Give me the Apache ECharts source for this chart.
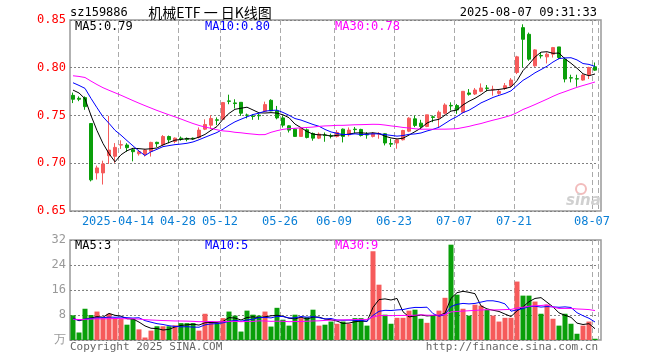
<!DOCTYPE html>
<html><head><meta charset="utf-8">
<script src="https://cdn.jsdelivr.net/npm/echarts@6/dist/echarts.min.js"></script>
<style>html,body{margin:0;padding:0;background:#fff}#c{width:660px;height:360px}</style>
</head><body><div id="c"></div><script>
// ---------- data ----------
const dates = [
 '2025-04-01','2025-04-02','2025-04-03','2025-04-07','2025-04-08','2025-04-09','2025-04-10','2025-04-11','2025-04-14','2025-04-15','2025-04-16','2025-04-17','2025-04-18','2025-04-21','2025-04-22','2025-04-23','2025-04-24','2025-04-25','2025-04-28','2025-04-29','2025-04-30',
 '2025-05-06','2025-05-07','2025-05-08','2025-05-09','2025-05-12','2025-05-13','2025-05-14','2025-05-15','2025-05-16','2025-05-19','2025-05-20','2025-05-21','2025-05-22','2025-05-23','2025-05-26','2025-05-27','2025-05-28','2025-05-29','2025-05-30',
 '2025-06-03','2025-06-04','2025-06-05','2025-06-06','2025-06-09','2025-06-10','2025-06-11','2025-06-12','2025-06-13','2025-06-16','2025-06-17','2025-06-18','2025-06-19','2025-06-20','2025-06-23','2025-06-24','2025-06-25','2025-06-26','2025-06-27','2025-06-30',
 '2025-07-01','2025-07-02','2025-07-03','2025-07-04','2025-07-07','2025-07-08','2025-07-09','2025-07-10','2025-07-11','2025-07-14','2025-07-15','2025-07-16','2025-07-17','2025-07-18','2025-07-21','2025-07-22','2025-07-23','2025-07-24','2025-07-25','2025-07-28','2025-07-29','2025-07-30','2025-07-31',
 '2025-08-01','2025-08-04','2025-08-05','2025-08-06','2025-08-07'
];
const opens = [.7711,.7680,.7687,.7416,.6899,.6899,.7079,.7073,.7190,.7191,.7142,.7100,.7090,.7125,.7219,.7194,.7280,.7229,.7263,.7260,.7262,.7270,.7357,.7399,.7455,.7460,.7653,.7632,.7638,.7504,.7495,.7503,.7545,.7659,.7548,.7475,.7392,.7357,.7281,.7350,.7312,.7263,.7295,.7290,.7281,.7357,.7298,.7357,
 .7354,.7302,.7281,.7306,.7309,.7207,.7212,.7246,.7336,.7465,.7420,.7385,.7486,.7475,.7524,.7606,.7604,.7534,.7736,.7725,.7753,.7788,.7770,.7732,.7784,.7812,.7951,.8420,.8350,.8020,.8128,.8114,.8142,.8218,.8090,.7896,.7885,.7871,.7927,.8010];
const closes = [.7670,.7670,.7593,.6826,.6951,.6993,.7138,.7166,.7195,.7163,.7121,.7120,.7138,.7218,.7205,.7280,.7246,.7263,.7253,.7250,.7255,.7347,.7406,.7469,.7450,.7635,.7648,.7625,.7524,.7503,.7490,.7497,.7614,.7548,.7475,.7399,.7347,.7281,.7364,.7270,.7263,.7305,.7290,.7285,.7322,.7281,.7347,.7352,
 .7291,.7296,.7309,.7309,.7212,.7200,.7246,.7343,.7472,.7396,.7385,.7507,.7480,.7534,.7610,.7600,.7559,.7753,.7722,.7767,.7788,.7784,.7774,.7753,.7812,.7871,.8114,.8298,.8090,.8187,.8124,.8142,.8211,.8107,.7882,.7892,.7882,.7923,.8003,.7975];
const lows = [.7630,.7650,.7560,.6810,.6830,.6777,.6993,.7003,.7150,.7120,.7020,.7080,.7070,.7070,.7170,.7180,.7210,.7210,.7236,.7230,.7245,.7260,.7347,.7357,.7399,.7455,.7618,.7573,.7496,.7470,.7455,.7455,.7538,.7545,.7460,.7375,.7322,.7281,.7281,.7260,.7236,.7253,.7225,.7260,.7270,.7218,.7281,.7312,
 .7280,.7257,.7270,.7257,.7187,.7170,.7152,.7239,.7326,.7378,.7361,.7378,.7430,.7378,.7510,.7552,.7517,.7524,.7708,.7715,.7743,.7753,.7708,.7718,.7767,.7795,.7934,.8003,.8073,.8010,.8097,.8045,.8107,.8090,.7847,.7847,.7802,.7864,.7882,.7968];
const highs = [.7740,.7700,.7700,.7416,.6975,.7027,.7496,.7211,.7240,.7210,.7160,.7140,.7150,.7225,.7225,.7295,.7290,.7270,.7280,.7270,.7270,.7375,.7460,.7503,.7480,.7642,.7718,.7670,.7638,.7520,.7513,.7520,.7645,.7670,.7600,.7496,.7399,.7364,.7375,.7364,.7322,.7322,.7322,.7310,.7347,.7364,.7375,.7380,
 .7361,.7326,.7326,.7326,.7316,.7257,.7257,.7350,.7482,.7500,.7455,.7507,.7500,.7552,.7628,.7638,.7621,.7753,.7777,.7788,.7836,.7819,.7812,.7767,.7840,.7892,.8125,.8455,.8368,.8194,.8160,.8160,.8218,.8218,.8107,.7927,.7927,.7934,.8010,.8055];
const volumes = [7.9,2.4,10.0,8.0,9.1,7.0,8.4,7.0,6.7,4.9,6.7,3.4,0.8,3.0,4.4,4.4,4.4,4.7,5.4,5.4,5.4,3.0,8.4,5.9,5.4,7.0,9.1,7.8,2.7,9.4,8.1,7.8,9.1,4.3,10.3,6.5,4.6,8.1,7.0,7.3,9.7,4.6,4.9,5.9,5.2,5.9,5.2,7.0,
 7.0,4.6,28.4,17.7,8.1,5.2,7.1,7.1,9.4,9.7,6.8,5.5,7.8,9.4,13.5,30.5,14.5,10.0,7.8,11.3,11.0,9.7,7.8,5.9,7.1,7.1,18.7,14.2,14.2,12.3,8.4,11.3,6.8,4.6,8.4,5.2,2.0,4.6,5.9,0.4];
// estimated closes / volumes before the visible window (only used to warm up the moving averages)
const preCloses = [.790,.792,.797,.801,.799,.796,.794,.798,.800,.797,.793,.791,.795,.798,.796,.792,.790,.794,.797,.796,.795,.790,.788,.793,.794,.782,.790,.770,.774];
const preVolumes = [6.1,7.4,5.8,6.9,7.2,6.3,5.5,7.8,6.6,6.0,7.1,6.4,5.9,7.3,6.8,6.2,7.0,5.7,6.5,7.6,6.3,6.9,5.8,7.2,6.6,6.4,7.5,6.1,6.9];
const tickDates = ['2025-04-14','2025-04-28','2025-05-12','2025-05-26','2025-06-09','2025-06-23','2025-07-07','2025-07-21','2025-08-07'];
const priceTicks = {min: 0.65, max: 0.85, interval: 0.05};
const volTicks = {min: 0, max: 32, interval: 8};
const maPeriods = [5, 10, 30];
const maColors = ['#000000', '#0000ff', '#ff00ff'];
const priceLegend = ['MA5:0.79', 'MA10:0.80', 'MA30:0.78'];
const volLegend = ['MA5:3', 'MA10:5', 'MA30:9'];

// ---------- helpers ----------
function movingAvg(src, pre, n) {
  const all = pre.concat(src);
  return src.map((_, i) => {
    let s = 0;
    for (let k = 0; k < n; k++) s += all[pre.length + i - k];
    return +(s / n).toFixed(4);
  });
}
const RED = '#f65b5b', GREEN = '#0a9f0a';
const MONO = '"DejaVu Sans Mono", monospace';
const isTick = (idx, val) => tickDates.indexOf(val) >= 0;
const candleData = dates.map((d, i) => [opens[i], closes[i], lows[i], highs[i]]);
const volData = volumes.map((v, i) => ({value: v, itemStyle: {color: closes[i] > opens[i] ? RED : GREEN}}));

const series = [{
  type: 'candlestick', xAxisIndex: 0, yAxisIndex: 0, data: candleData, barWidth: 4,
  itemStyle: {color: RED, color0: GREEN, borderColor: RED, borderColor0: GREEN, borderWidth: 1}, z: 3
}];
maPeriods.forEach((n, k) => {
  series.push({type: 'line', xAxisIndex: 0, yAxisIndex: 0, data: movingAvg(closes, preCloses, n),
    symbol: 'none', lineStyle: {width: 1, color: maColors[k]}, z: 5});
});
series.push({type: 'bar', xAxisIndex: 1, yAxisIndex: 1, data: volData, barWidth: 5, z: 3});
maPeriods.forEach((n, k) => {
  series.push({type: 'line', xAxisIndex: 1, yAxisIndex: 1, data: movingAvg(volumes, preVolumes, n),
    symbol: 'none', lineStyle: {width: 1, color: maColors[k]}, z: 5});
});

const dashed = {show: true, interval: isTick, lineStyle: {color: '#aaaaaa', type: [5, 3], width: 1}};
const dotted = {show: true, lineStyle: {color: '#808080', type: [2, 2], width: 1}};

const graphics = [
  {type: 'text', style: {text: 'sz159886', x: 70, y: 13, font: '12px ' + MONO, fill: '#000', textVerticalAlign: 'middle'}},
  {type: 'text', style: {text: '机械ETF 一 日K线图', x: 210, y: 13, font: '14px "Noto Sans CJK SC"', fill: '#000', textAlign: 'center', textVerticalAlign: 'middle'}},
  {type: 'text', style: {text: '2025-08-07 09:31:33', x: 597, y: 13, font: '12px ' + MONO, fill: '#000', textAlign: 'right', textVerticalAlign: 'middle'}},
  {type: 'text', style: {text: 'Copyright 2025 SINA.COM', x: 70, y: 347, font: '11px ' + MONO, fill: '#666', textVerticalAlign: 'middle'}},
  {type: 'text', style: {text: 'http://finance.sina.com.cn', x: 598, y: 347, font: '11px ' + MONO, fill: '#666', textAlign: 'right', textVerticalAlign: 'middle'}},
  {type: 'circle', shape: {cx: 581, cy: 189, r: 5}, style: {fill: 'none', stroke: '#f2bcbc', lineWidth: 2}, z: 1},
  {type: 'text', style: {text: 'sina', x: 566, y: 201, font: 'italic bold 15px "DejaVu Sans"', fill: '#d0d0d0', textVerticalAlign: 'middle'}, z: 1}
];
const legendX = [75, 205, 335];
priceLegend.forEach((t, k) => graphics.push({type: 'text', style: {text: t, x: legendX[k], y: 27, font: '12px ' + MONO, fill: maColors[k], textVerticalAlign: 'middle'}, z: 10}));
volLegend.forEach((t, k) => graphics.push({type: 'text', style: {text: t, x: legendX[k], y: 246, font: '12px ' + MONO, fill: maColors[k], textVerticalAlign: 'middle'}, z: 10}));

const option = {
  animation: false,
  backgroundColor: '#ffffff',
  grid: [
    {left: 70, top: 20, width: 528, height: 191, show: true, borderWidth: 0, backgroundColor: 'rgba(0,0,0,0)'},
    {left: 70, top: 240, width: 528, height: 100, show: true, borderWidth: 0, backgroundColor: 'rgba(0,0,0,0)'},
    {left: 70, top: 20, width: 531, height: 191, show: true, borderColor: '#999', borderWidth: 1.5, backgroundColor: 'rgba(0,0,0,0)'},
    {left: 70, top: 240, width: 531, height: 100, show: true, borderColor: '#999', borderWidth: 1.5, backgroundColor: 'rgba(0,0,0,0)'}
  ],
  xAxis: [
    {type: 'category', gridIndex: 0, data: dates, boundaryGap: true,
      axisLine: {show: false}, axisTick: {show: false}, splitLine: dashed,
      axisLabel: {interval: isTick, color: '#0a7fd6', fontFamily: MONO, fontSize: 12, margin: 5, padding: [0, 6, 0, 0],
        formatter: v => v === '2025-04-14' ? v : v.slice(5)}},
    {type: 'category', gridIndex: 1, data: dates, boundaryGap: true,
      axisLine: {show: false}, axisTick: {show: false}, axisLabel: {show: false}, splitLine: dashed},
    {type: 'value', gridIndex: 2, show: false, min: 0, max: 1, splitLine: {show: false}},
    {type: 'value', gridIndex: 3, show: false, min: 0, max: 1, splitLine: {show: false}}
  ],
  yAxis: [
    {type: 'value', gridIndex: 0, min: priceTicks.min, max: priceTicks.max, interval: priceTicks.interval,
      axisLine: {show: false}, axisTick: {show: false}, axisLabel: {show: false}, splitLine: dotted},
    {type: 'value', gridIndex: 1, min: volTicks.min, max: volTicks.max, interval: volTicks.interval,
      axisLine: {show: false}, axisTick: {show: false}, axisLabel: {show: false}, splitLine: dotted},
    {type: 'value', gridIndex: 2, min: priceTicks.min, max: priceTicks.max, interval: priceTicks.interval,
      axisLine: {show: false}, axisTick: {show: false}, splitLine: {show: false},
      axisLabel: {color: '#ff0000', fontFamily: MONO, fontSize: 12, margin: 4, formatter: v => v.toFixed(2)}},
    {type: 'value', gridIndex: 3, min: volTicks.min, max: volTicks.max, interval: volTicks.interval,
      axisLine: {show: false}, axisTick: {show: false}, splitLine: {show: false},
      axisLabel: {color: '#999999', fontFamily: MONO, fontSize: 12, margin: 4, formatter: v => v === 0 ? '万' : String(v)}}
  ],
  series: series,
  graphic: graphics
};
const chart = echarts.init(document.getElementById('c'));
chart.setOption(option);
</script></body></html>
